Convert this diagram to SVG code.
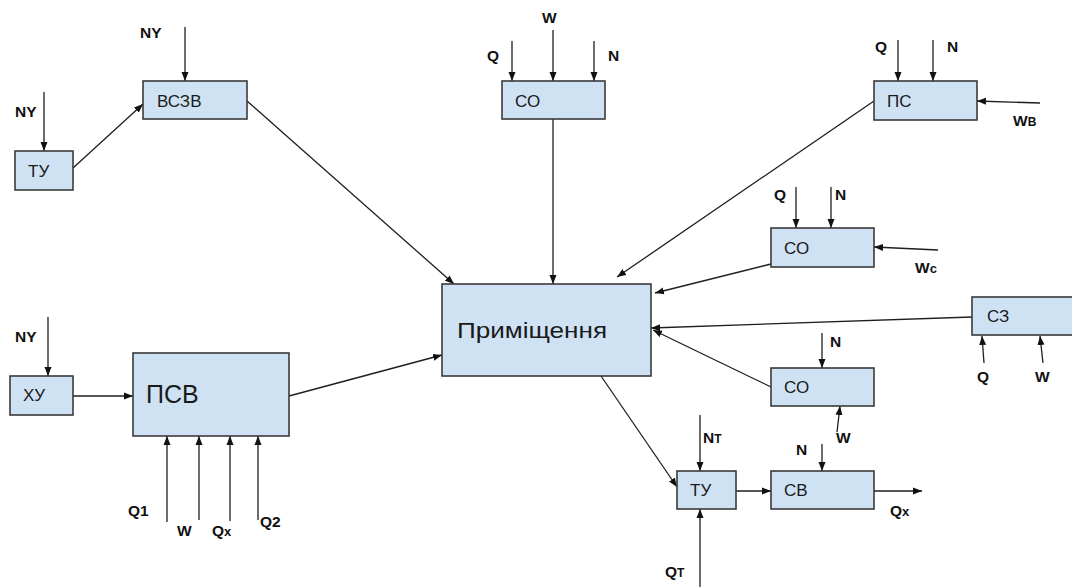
<svg xmlns="http://www.w3.org/2000/svg" width="1072" height="587" viewBox="0 0 1072 587">
<style>
.box{fill:#cfe2f3;stroke:#3a3a3a;stroke-width:1.6}
.bt{font-family:"Liberation Sans",Arial,sans-serif;font-size:17px;fill:#1a1a1a}
.lb{font-family:"Liberation Sans",Arial,sans-serif;font-size:15.5px;font-weight:bold;fill:#111}
.c{fill:none;stroke:#1e1e1e;stroke-width:1.3;marker-end:url(#ah)}
</style>
<defs>
<marker id="ah" markerUnits="userSpaceOnUse" markerWidth="10" markerHeight="8" refX="9" refY="4" orient="auto">
<path d="M0,0.5 L9,4 L0,7.5 Z" fill="#111"/>
</marker>
</defs>
<rect width="1072" height="587" fill="#fff"/>
<g id="connectors">
<line class="c" x1="185" y1="27" x2="185" y2="81"/>
<line class="c" x1="44" y1="92" x2="44" y2="151"/>
<line class="c" x1="73" y1="168" x2="143" y2="104"/>
<line class="c" x1="247" y1="101" x2="454" y2="284"/>
<line class="c" x1="512" y1="41" x2="512" y2="81"/>
<line class="c" x1="553" y1="30" x2="553" y2="81"/>
<line class="c" x1="594" y1="41" x2="594" y2="81"/>
<line class="c" x1="553" y1="119" x2="553" y2="284"/>
<line class="c" x1="898" y1="40" x2="898" y2="81"/>
<line class="c" x1="933" y1="40" x2="933" y2="81"/>
<line class="c" x1="1040" y1="103" x2="977" y2="101"/>
<line class="c" x1="874" y1="101" x2="617" y2="277"/>
<line class="c" x1="796" y1="187" x2="796" y2="228"/>
<line class="c" x1="831" y1="187" x2="831" y2="228"/>
<line class="c" x1="938" y1="250" x2="874" y2="247"/>
<line class="c" x1="771" y1="264" x2="655" y2="293"/>
<line class="c" x1="972" y1="317" x2="651" y2="328"/>
<line class="c" x1="984" y1="363" x2="982" y2="336"/>
<line class="c" x1="1043" y1="363" x2="1040" y2="336"/>
<line class="c" x1="771" y1="387" x2="653" y2="330"/>
<line class="c" x1="822" y1="333" x2="822" y2="368"/>
<line class="c" x1="837" y1="432" x2="840" y2="406"/>
<line class="c" x1="48" y1="317" x2="48" y2="376"/>
<line class="c" x1="73" y1="396" x2="133" y2="396"/>
<line class="c" x1="167" y1="522" x2="167" y2="436"/>
<line class="c" x1="199" y1="520" x2="199" y2="436"/>
<line class="c" x1="230" y1="521" x2="230" y2="436"/>
<line class="c" x1="258" y1="520" x2="258" y2="436"/>
<line class="c" x1="289" y1="396" x2="442" y2="355"/>
<line class="c" x1="601" y1="376" x2="677" y2="487"/>
<line class="c" x1="700" y1="415" x2="700" y2="471"/>
<line class="c" x1="700" y1="587" x2="700" y2="509"/>
<line class="c" x1="736" y1="491" x2="771" y2="491"/>
<line class="c" x1="822" y1="444" x2="822" y2="471"/>
<line class="c" x1="874" y1="491" x2="922" y2="491"/>
</g>
<g id="labels">
<text class="lb" x="140" y="38">NY</text>
<text class="lb" x="15" y="117">NY</text>
<text class="lb" x="542" y="23">W</text>
<text class="lb" x="487" y="61">Q</text>
<text class="lb" x="608" y="61">N</text>
<text class="lb" x="875" y="52">Q</text>
<text class="lb" x="947" y="52">N</text>
<text class="lb" x="1013" y="126">W<tspan font-size="12">В</tspan></text>
<text class="lb" x="774" y="200">Q</text>
<text class="lb" x="835" y="200">N</text>
<text class="lb" x="915" y="273">W<tspan font-size="13">c</tspan></text>
<text class="lb" x="15" y="342">NY</text>
<text class="lb" x="128" y="516">Q1</text>
<text class="lb" x="177" y="536">W</text>
<text class="lb" x="212" y="536">Q<tspan font-size="13">x</tspan></text>
<text class="lb" x="260" y="527">Q2</text>
<text class="lb" x="830" y="347">N</text>
<text class="lb" x="836" y="443">W</text>
<text class="lb" x="796" y="455">N</text>
<text class="lb" x="703" y="443">N<tspan font-size="12">Т</tspan></text>
<text class="lb" x="665" y="577">Q<tspan font-size="12">Т</tspan></text>
<text class="lb" x="890" y="516">Q<tspan font-size="13">x</tspan></text>
<text class="lb" x="977" y="382">Q</text>
<text class="lb" x="1035" y="382">W</text>
</g>
<g id="node-ty1"><rect class="box" x="15" y="151" width="58" height="39"/><text class="bt" x="28" y="177">ТУ</text></g>
<g id="node-bc3b"><rect class="box" x="143" y="81" width="104" height="38"/><text class="bt" x="157" y="107">ВСЗВ</text></g>
<g id="node-co-top"><rect class="box" x="502" y="81" width="103" height="38"/><text class="bt" x="515" y="107">СО</text></g>
<g id="node-pc"><rect class="box" x="874" y="81" width="103" height="39"/><text class="bt" x="887" y="107">ПС</text></g>
<g id="node-co-mid"><rect class="box" x="771" y="228" width="103" height="39"/><text class="bt" x="784" y="254">СО</text></g>
<g id="node-room"><rect class="box" x="442" y="284" width="209" height="92"/><text class="bt" x="457" y="338" style="font-size:22px" textLength="150" lengthAdjust="spacingAndGlyphs">Приміщення</text></g>
<g id="node-c3"><rect class="box" x="972" y="297" width="104" height="38"/><text class="bt" x="987" y="322">СЗ</text></g>
<g id="node-co-bot"><rect class="box" x="771" y="368" width="103" height="38"/><text class="bt" x="784" y="393">СО</text></g>
<g id="node-xy"><rect class="box" x="10" y="376" width="63" height="39"/><text class="bt" x="23" y="401">ХУ</text></g>
<g id="node-psv"><rect class="box" x="133" y="353" width="156" height="83"/><text class="bt" x="146" y="403" style="font-size:25px">ПСВ</text></g>
<g id="node-ty2"><rect class="box" x="677" y="471" width="59" height="38"/><text class="bt" x="690" y="496">ТУ</text></g>
<g id="node-cb"><rect class="box" x="771" y="471" width="103" height="38"/><text class="bt" x="784" y="496">СВ</text></g>
</svg>
